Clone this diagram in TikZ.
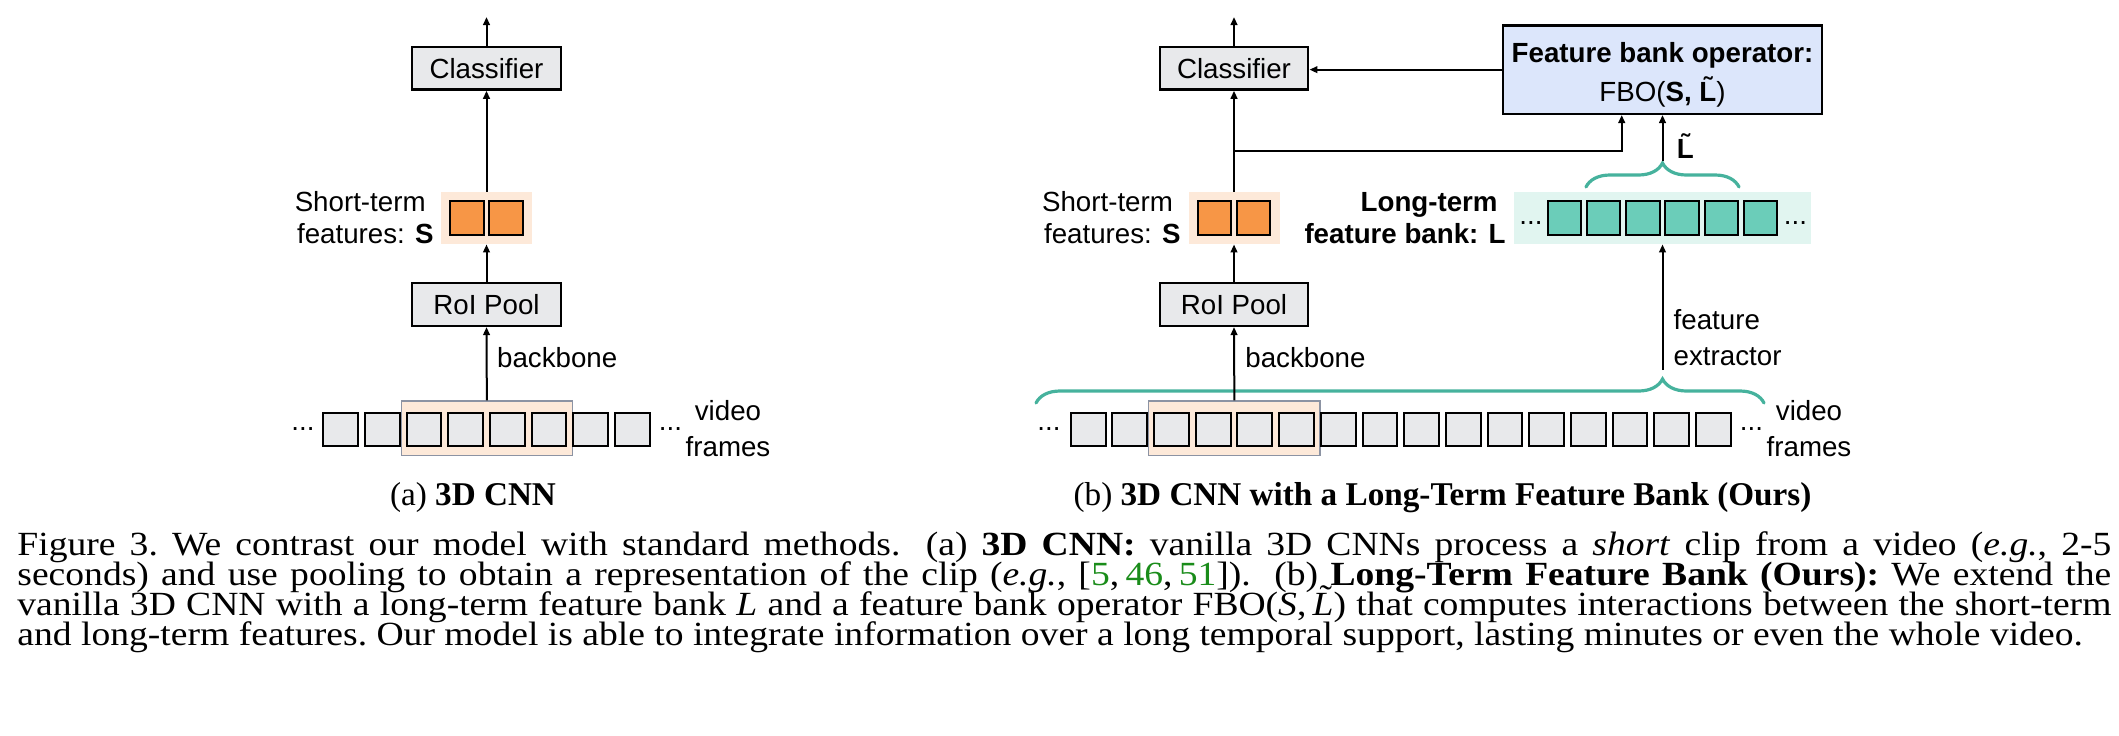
\documentclass[tikz,border=0pt]{standalone}
\usepackage{fontspec}
\setmainfont{Liberation Serif}
\setsansfont{Liberation Sans}
\usepackage{graphicx}
\usetikzlibrary{arrows.meta,decorations.pathreplacing,calc}
\definecolor{boxgray}{HTML}{E8E9EB}
\definecolor{sorange}{HTML}{F79646}
\definecolor{sorangebg}{HTML}{FDE9D9}
\definecolor{lteal}{HTML}{6BCDB9}
\definecolor{ltealbg}{HTML}{E1F5F0}
\definecolor{bracecol}{HTML}{46B29D}
\definecolor{fboblue}{HTML}{DCE6FB}
\definecolor{hlborder}{HTML}{8C93A3}
\definecolor{citegreen}{HTML}{1A8C1A}
\newcommand\itLtilde{\ooalign{\textit{L}\cr\hidewidth\raisebox{0.2em}{\kern0.15em\char"02DC}\hidewidth\cr}}
\begin{document}
\begin{tikzpicture}[x=0.5pt,y=-0.5pt,
  lbl/.style={font=\sffamily\fontsize{13.85}{16}\selectfont, inner sep=0pt},
  blbl/.style={font=\sffamily\bfseries\fontsize{13.85}{16}\selectfont, inner sep=0pt},
  opbox/.style={draw=black, line width=1.15pt, fill=boxgray, minimum width=74.3pt, minimum height=21.4pt, inner sep=0pt, font=\sffamily\fontsize{13.85}{16}\selectfont},
  fbobox/.style={draw=black, line width=1.15pt, fill=fboblue, minimum width=159.6pt, minimum height=44.2pt, inner sep=0pt},
  featsq/.style={draw=black, line width=1pt, fill=sorange, minimum width=16.75pt, minimum height=17pt, inner sep=0pt},
  tealsq/.style={draw=black, line width=1pt, fill=lteal, minimum width=16.75pt, minimum height=17pt, inner sep=0pt},
  vframe/.style={draw=black, line width=1pt, fill=boxgray, minimum width=17.35pt, minimum height=16.5pt, inner sep=0pt},
  bgrect/.style={draw=none, inner sep=0pt},
  hlrect/.style={draw=hlborder, line width=0.6pt, fill=sorangebg, minimum width=85.6pt, minimum height=27.4pt, inner sep=0pt},
  arr/.style={-{Triangle[length=4pt,width=3.3pt]}, line width=1pt, draw=black},
  mybrace/.style={draw=bracecol, line width=1.6pt, line cap=round, decorate},
  capfont/.style={font=\fontsize{16.6}{18}\selectfont, inner sep=0pt}
]
\useasboundingbox (0,0) rectangle (2119,735);

% ---------------- (a) ----------------
\node[bgrect, fill=sorangebg, minimum width=45.5pt, minimum height=26pt] (sbgA) at (486.5,218) {};
\node[hlrect] (hlA) at (486.85,428.35) {};
\node[featsq] (sA1) at (466.9,218) {};
\node[featsq] (sA2) at (506.1,218) {};
\foreach \i in {0,...,7} \node[vframe] (fA\i) at ({340.65+41.67*\i},429.2) {};
\node[opbox] (clsA) at (486.5,68.2) {Classifier};
\node[opbox] (roiA) at (486.5,304.5) {RoI Pool};
\coordinate (outA) at (486.5,17);
\draw[arr] (clsA.north) -- (outA);
\draw[arr] (sbgA.north) -- (clsA.south);
\draw[arr] (roiA.north) -- (sbgA.south);
\draw[arr] (hlA.north) -- (roiA.south);
\node[lbl, anchor=base east] (shortA1) at (426,211.7) {Short-term};
\node[lbl, anchor=base east] (shortA2) at (434,243) {features: \textbf{S}};
\node[lbl, anchor=base west] (bbA) at (496.7,367.3) {backbone};
\node[lbl, anchor=base] (dotsAL) at (303,430.5) {...};
\node[lbl, anchor=base] (dotsAR) at (670.5,430.5) {...};
\node[lbl, anchor=base] (vidA1) at (728,420) {video};
\node[lbl, anchor=base] (vidA2) at (728,456.7) {frames};
\node[capfont, anchor=base] (subA) at (473,505) {(a) \textbf{3D CNN}};

% ---------------- (b) ----------------
\node[bgrect, fill=sorangebg, minimum width=45.5pt, minimum height=26pt] (sbgB) at (1234,218) {};
\node[bgrect, fill=ltealbg, minimum width=148.5pt, minimum height=26pt] (lbox) at (1662.5,218) {};
\node[hlrect] (hlB) at (1234.35,428.35) {};
\node[featsq] (sB1) at (1214.4,218) {};
\node[featsq] (sB2) at (1253.6,218) {};
\foreach \i in {1,...,6} \node[tealsq] (tF\i) at ({1564.5+39.2*(\i-1)},218) {};
\foreach \i in {0,...,15} \node[vframe] (fB\i) at ({1088.15+41.67*\i},429.2) {};
\node[opbox] (clsB) at (1234,68.2) {Classifier};
\node[opbox] (roiB) at (1234,304.5) {RoI Pool};
\node[fbobox] (fbo) at (1662.5,69.65) {};
\node[blbl, anchor=base] (fboT1) at (1662.5,62.7) {Feature bank operator:};
\node[lbl, anchor=base] (fboT2) at (1662.5,101.7) {FBO(\textbf{S, \~{L}})};

% braces
\coordinate (bL) at (1036,403);
\coordinate (bR) at (1764,403);
\draw[mybrace, decoration={brace, amplitude=12pt, aspect=0.8606}] (bL) -- (bR);
\coordinate (sbL) at ($(tF2.north west)+(0,-13)$);
\coordinate (sbR) at ($(tF5.north east)+(0,-13)$);
\draw[mybrace, decoration={brace, amplitude=12pt, aspect=0.5}] (sbL) -- (sbR);

% connectors
\coordinate (outB) at (1234,17);
\coordinate (br) at (1234,151);
\coordinate (ltip) at (1662.5,161);
\coordinate (fetip) at (1662.5,370);
\draw[arr] (clsB.north) -- (outB);
\draw[arr] (sbgB.north) -- (clsB.south);
\draw[arr] (roiB.north) -- (sbgB.south);
\draw[arr] (hlB.north) -- (roiB.south);
\draw[arr] (br) -| ($(fbo.south)+(-40.8,0)$);
\draw[arr] (fbo.west) -- (fbo.west -| clsB.east);
\draw[arr] (ltip) -- (fbo.south);
\draw[arr] (fetip) -- (lbox.south);

\node[blbl, anchor=base west] (ltl) at (1676.5,158) {\~{L}};
\node[lbl, anchor=base east] (shortB1) at (1173.3,211.7) {Short-term};
\node[lbl, anchor=base east] (shortB2) at (1181,243) {features: \textbf{S}};
\node[blbl, anchor=base east] (longB1) at (1498,211) {Long-term};
\node[blbl, anchor=base east] (longB2) at (1506,243) {feature bank: L};
\node[lbl, anchor=base] (dotsTL) at (1531,224.2) {...};
\node[lbl, anchor=base] (dotsTR) at (1795.5,224.2) {...};
\node[lbl, anchor=base west] (bbB) at (1245,367.3) {backbone};
\node[lbl, anchor=base west] (feB1) at (1673.3,329.5) {feature};
\node[lbl, anchor=base west] (feB2) at (1673.3,365.5) {extractor};
\node[lbl, anchor=base] (dotsBL) at (1049,430.5) {...};
\node[lbl, anchor=base] (dotsBR) at (1751.4,430.5) {...};
\node[lbl, anchor=base] (vidB1) at (1809,420) {video};
\node[lbl, anchor=base] (vidB2) at (1809,456.7) {frames};
\node[capfont, anchor=base] (subB) at (1442.5,505) {(b) \textbf{3D CNN with a Long-Term Feature Bank (Ours)}};

% ---------------- caption ----------------
\node[anchor=base west, inner sep=0pt] (cap) at (17,555) {\scalebox{1}[0.9]{\parbox[t]{1047pt}{\fontsize{18.8}{16.67}\selectfont\frenchspacing\lineskiplimit=-100pt\lineskip=0pt
\hbox to\hsize{Figure 3. We contrast our model with standard methods.\hspace{0.3em} (a) \textbf{3D CNN:} vanilla 3D CNNs process a \textit{short} clip from a video (\textit{e.g.}, 2-5}%
\hbox to\hsize{seconds) and use pooling to obtain a representation of the clip (\textit{e.g.}, [\textcolor{citegreen}{5},\,\textcolor{citegreen}{46},\,\textcolor{citegreen}{51}]).\hspace{0.3em} (b) \textbf{Long-Term Feature Bank (Ours):} We extend the}%
\hbox to\hsize{vanilla 3D CNN with a long-term feature bank \textit{L} and a feature bank operator FBO(\textit{S},\,\itLtilde) that computes interactions between the short-term}%
\hbox{and long-term features. Our model is able to integrate information over a long temporal support, lasting minutes or even the whole video.}}}};
\end{tikzpicture}
\end{document}
